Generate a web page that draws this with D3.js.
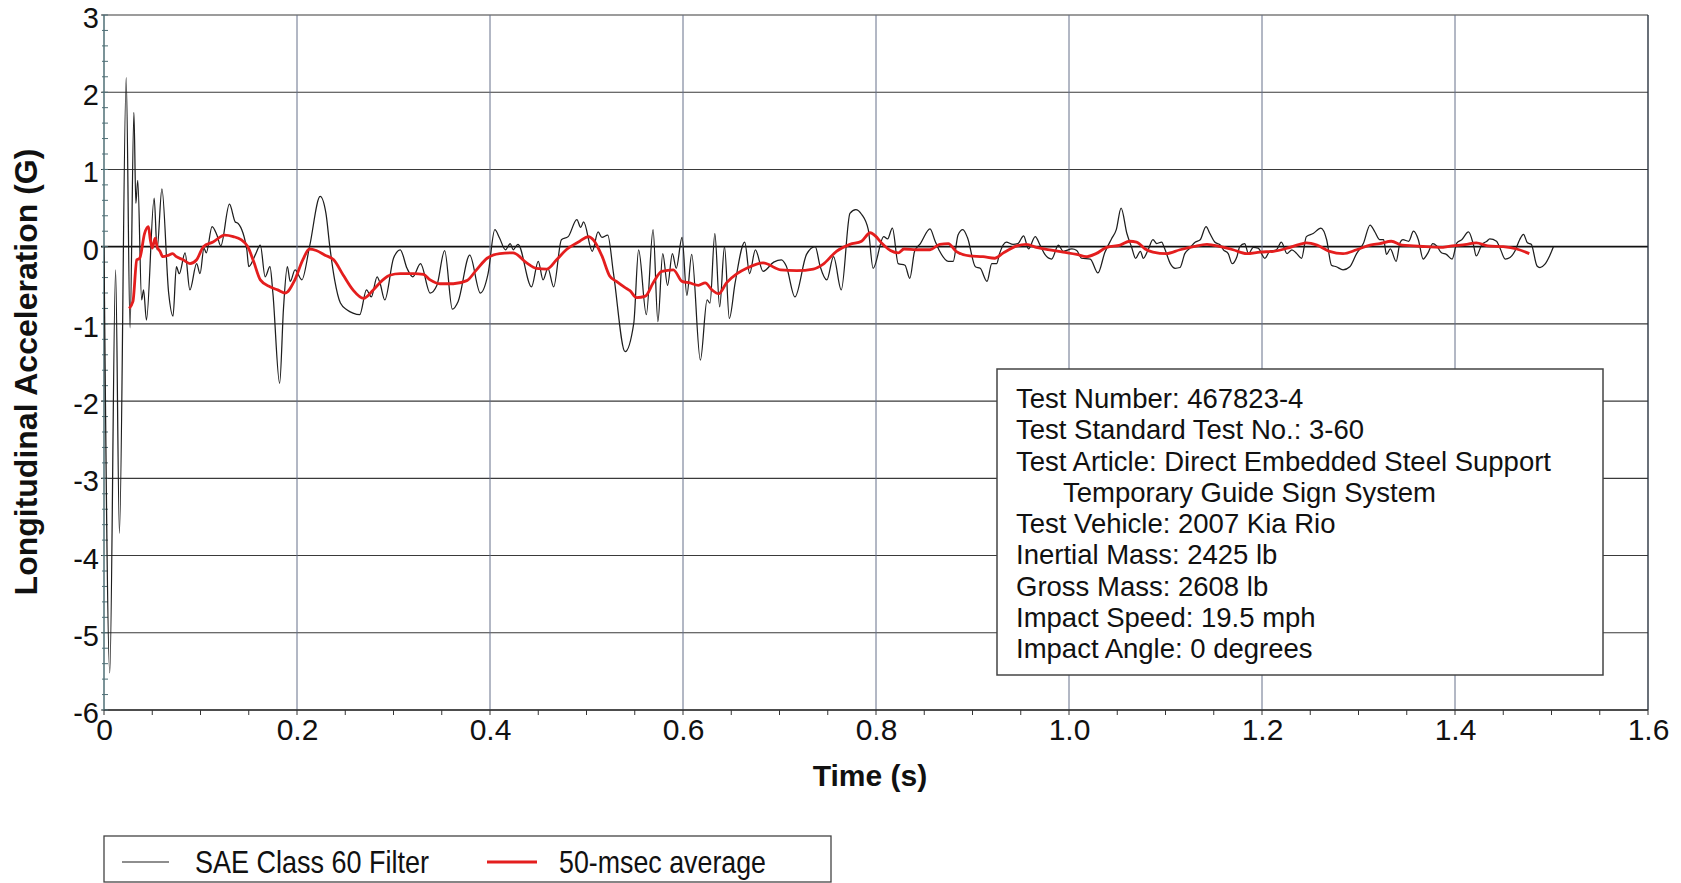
<!DOCTYPE html>
<html><head><meta charset="utf-8">
<script src="https://cdn.jsdelivr.net/npm/d3@7"></script>
<style>
body{margin:0;background:#fff}
svg{display:block}
text{font-family:"Liberation Sans",Arial,Helvetica,sans-serif;fill:#111}
</style>
</head><body><svg id="chart" width="1681" height="883"></svg>
<script>
// ---------- data ----------
const xTickValues = [0,0.2,0.4,0.6,0.8,1.0,1.2,1.4,1.6];
const xTickLabels = ["0","0.2","0.4","0.6","0.8","1.0","1.2","1.4","1.6"];
const yTickValues = [-6,-5,-4,-3,-2,-1,0,1,2,3];
const yTickLabels = ["-6","-5","-4","-3","-2","-1","0","1","2","3"];

const sae60Time = [0,0.006,0.012,0.016,0.023,0.027,0.031,0.033,0.035,0.039,0.041,0.044,0.052,0.055,0.060,0.067,0.0715,0.075,0.078,0.084,0.089,0.096,0.0995,0.1036,0.106,0.112,0.117,0.121,0.130,0.136,0.139,0.148,0.150,0.157,0.162,0.167,0.172,0.175,0.182,0.186,0.190,0.193,0.198,0.205,0.213,0.224,0.230,0.234,0.239,0.245,0.252,0.258,0.265,0.272,0.277,0.283,0.286,0.291,0.300,0.307,0.314,0.320,0.328,0.338,0.345,0.353,0.361,0.367,0.379,0.390,0.398,0.405,0.410,0.416,0.421,0.424,0.429,0.443,0.450,0.455,0.460,0.466,0.474,0.481,0.490,0.494,0.497,0.506,0.512,0.516,0.522,0.528,0.540,0.549,0.554,0.562,0.569,0.574,0.579,0.584,0.589,0.593,0.599,0.604,0.609,0.618,0.625,0.628,0.633,0.638,0.643,0.648,0.654,0.664,0.669,0.675,0.683,0.694,0.702,0.707,0.716,0.728,0.737,0.742,0.749,0.756,0.764,0.773,0.779,0.785,0.792,0.797,0.808,0.812,0.817,0.823,0.830,0.835,0.840,0.846,0.856,0.861,0.866,0.875,0.880,0.885,0.890,0.895,0.903,0.908,0.915,0.920,0.925,0.928,0.935,0.942,0.947,0.953,0.958,0.965,0.970,0.975,0.982,0.989,0.994,1.003,1.008,1.013,1.022,1.030,1.037,1.044,1.049,1.054,1.060,1.065,1.069,1.074,1.077,1.082,1.087,1.091,1.096,1.099,1.105,1.110,1.115,1.120,1.125,1.131,1.136,1.142,1.146,1.151,1.157,1.160,1.165,1.169,1.174,1.177,1.182,1.186,1.191,1.196,1.203,1.208,1.215,1.220,1.226,1.231,1.236,1.241,1.246,1.253,1.261,1.267,1.272,1.277,1.284,1.291,1.298,1.305,1.312,1.317,1.322,1.326,1.329,1.333,1.339,1.343,1.346,1.352,1.357,1.362,1.367,1.372,1.377,1.381,1.386,1.391,1.397,1.402,1.407,1.414,1.419,1.422,1.428,1.433,1.436,1.443,1.447,1.452,1.457,1.462,1.467,1.471,1.475,1.479,1.485,1.488,1.493,1.498,1.502];
const sae60Accel = [0,-5.52,-0.30,-3.71,2.19,-1.05,1.74,0.56,0.86,-0.69,-0.56,-0.95,0.63,-0.04,0.75,-0.60,-0.90,-0.26,-0.35,-0.08,-0.56,-0.22,-0.35,-0.02,-0.08,0.26,0.15,0.01,0.55,0.32,0.30,-0.04,-0.26,-0.10,0.02,-0.39,-0.26,-0.60,-1.77,-0.80,-0.26,-0.45,-0.30,-0.43,0.0,0.65,0.43,0.0,-0.43,-0.73,-0.82,-0.86,-0.88,-0.56,-0.65,-0.39,-0.47,-0.69,-0.15,-0.04,-0.28,-0.39,-0.22,-0.60,-0.50,-0.05,-0.81,-0.71,-0.11,-0.60,-0.35,0.22,0.11,-0.04,0.04,-0.04,0.03,-0.52,-0.19,-0.43,-0.28,-0.52,0.09,0.13,0.35,0.25,0.32,-0.06,0.19,0.12,0.15,-0.35,-1.36,-0.99,-0.04,-0.88,0.22,-0.97,-0.09,-0.50,-0.09,-0.28,0.12,-0.63,-0.10,-1.47,-0.69,-0.73,0.17,-0.78,0.0,-0.93,-0.47,0.06,-0.35,-0.04,-0.32,-0.20,-0.17,-0.25,-0.65,-0.10,0.0,-0.25,-0.43,-0.13,-0.56,0.43,0.48,0.42,0.22,-0.28,0.13,0.10,0.24,-0.22,-0.24,-0.41,-0.06,0.04,0.23,0.08,-0.06,-0.19,-0.19,0.15,0.22,0.11,-0.26,-0.28,-0.45,-0.22,-0.22,-0.09,0.06,0.03,0.04,0.14,-0.03,0.13,0.02,-0.10,-0.16,0.02,-0.06,-0.03,-0.05,-0.15,-0.16,-0.34,-0.08,0.10,0.22,0.50,0.17,-0.01,-0.15,-0.06,-0.15,-0.04,0.09,0.04,0.06,-0.02,-0.22,-0.28,-0.27,-0.09,-0.02,0.06,0.09,0.26,0.17,0.06,0.02,-0.04,-0.09,-0.22,-0.13,0.0,0.04,-0.09,-0.01,-0.02,-0.15,-0.06,-0.04,0.06,-0.09,-0.04,-0.09,-0.15,0.13,0.17,0.24,0.09,-0.24,-0.26,-0.30,-0.26,-0.09,0.04,0.28,0.19,0.09,0.09,-0.10,-0.03,-0.19,0.05,0.09,0.07,0.20,0.09,-0.16,-0.08,0.04,0.01,-0.08,-0.10,-0.16,0.05,0.09,0.19,0.03,-0.12,0.03,0.07,0.10,0.07,-0.03,-0.16,-0.14,-0.06,0.09,0.16,0.05,0.03,-0.25,-0.27,-0.23,-0.12,0.0];

const avgTime = [0.026,0.030,0.034,0.037,0.042,0.046,0.048,0.050,0.053,0.055,0.058,0.061,0.067,0.071,0.075,0.082,0.089,0.096,0.103,0.113,0.125,0.134,0.142,0.149,0.155,0.162,0.172,0.180,0.188,0.197,0.206,0.213,0.220,0.229,0.238,0.248,0.258,0.269,0.279,0.289,0.296,0.307,0.321,0.331,0.338,0.348,0.362,0.376,0.386,0.397,0.410,0.424,0.438,0.448,0.459,0.469,0.479,0.493,0.502,0.507,0.516,0.524,0.531,0.540,0.545,0.552,0.561,0.569,0.578,0.590,0.599,0.607,0.616,0.623,0.630,0.637,0.645,0.656,0.666,0.683,0.701,0.718,0.735,0.745,0.759,0.773,0.785,0.794,0.808,0.815,0.823,0.829,0.842,0.856,0.866,0.875,0.883,0.897,0.911,0.923,0.932,0.946,0.956,0.966,0.980,0.994,1.008,1.018,1.028,1.039,1.053,1.063,1.070,1.079,1.087,1.101,1.115,1.129,1.143,1.157,1.170,1.184,1.198,1.212,1.226,1.239,1.246,1.257,1.270,1.284,1.298,1.312,1.322,1.334,1.345,1.357,1.370,1.384,1.397,1.412,1.422,1.434,1.450,1.464,1.477];
const avgAccel = [-0.80,-0.71,-0.17,-0.15,0.17,0.26,0.09,-0.02,0.11,0.0,-0.06,-0.13,-0.11,-0.09,-0.13,-0.17,-0.22,-0.17,0.0,0.06,0.15,0.13,0.09,0.0,-0.19,-0.43,-0.52,-0.56,-0.60,-0.45,-0.17,-0.03,-0.05,-0.11,-0.17,-0.37,-0.56,-0.67,-0.56,-0.43,-0.37,-0.35,-0.35,-0.36,-0.43,-0.48,-0.48,-0.44,-0.30,-0.15,-0.09,-0.08,-0.21,-0.28,-0.29,-0.17,-0.04,0.07,0.13,0.09,-0.12,-0.38,-0.45,-0.53,-0.57,-0.66,-0.64,-0.47,-0.32,-0.30,-0.45,-0.47,-0.50,-0.47,-0.56,-0.61,-0.47,-0.35,-0.28,-0.21,-0.30,-0.31,-0.29,-0.23,-0.06,0.03,0.07,0.18,0.02,-0.05,-0.08,-0.03,-0.04,-0.04,0.03,0.04,-0.06,-0.12,-0.13,-0.15,-0.08,0.01,0.03,-0.01,-0.04,-0.07,-0.10,-0.13,-0.09,-0.01,0.02,0.07,0.06,-0.03,-0.07,-0.09,-0.04,0.0,0.03,0.0,-0.04,-0.09,-0.07,-0.06,-0.02,0.03,0.05,0.02,-0.06,-0.09,-0.04,0.02,0.04,0.07,0.02,0.01,0.0,-0.01,0.01,0.03,0.05,0.01,0.0,-0.03,-0.09];

const seriesNames = ["SAE Class 60 Filter","50-msec average"];
const seriesColors = ["#1e1e1e","#e41e1e"];
const xTitle = "Time (s)";
const yTitle = "Longitudinal Acceleration (G)";
const infoLines = [
  "Test Number: 467823-4",
  "Test Standard Test No.: 3-60",
  "Test Article: Direct Embedded Steel Support",
  "Temporary Guide Sign System",
  "Test Vehicle: 2007 Kia Rio",
  "Inertial Mass: 2425 lb",
  "Gross Mass: 2608 lb",
  "Impact Speed: 19.5 mph",
  "Impact Angle: 0 degrees"
];
const infoIndent = [false,false,false,true,false,false,false,false,false];

// ---------- layout ----------
const svg = d3.select("#chart");
const L = 104, R = 1648, T = 15, B = 710;
const x = d3.scaleLinear().domain([0,1.6]).range([L,R]);
const y = d3.scaleLinear().domain([-6,3]).range([B,T]);

// horizontal gridlines
svg.append("g").selectAll("line").data(yTickValues).join("line")
  .attr("x1", L-3).attr("x2", R)
  .attr("y1", d=>y(d)).attr("y2", d=>y(d))
  .attr("stroke", d=> d===0 ? "#111" : "#3a3a3a")
  .attr("stroke-width", d=> d===0 ? 1.6 : 1.1);

// vertical gridlines
svg.append("g").selectAll("line").data(xTickValues.filter(d=>d>0)).join("line")
  .attr("x1", d=>x(d)).attr("x2", d=>x(d))
  .attr("y1", T).attr("y2", B)
  .attr("stroke", d=> d===1.6 ? "#2a3440" : "#66708a")
  .attr("stroke-width", d=> d===1.6 ? 1.4 : 1);

// left axis line
svg.append("line").attr("x1",L).attr("x2",L).attr("y1",T).attr("y2",B)
  .attr("stroke","#4f6f76").attr("stroke-width",1.5);
// bottom axis line
svg.append("line").attr("x1",L).attr("x2",R).attr("y1",B).attr("y2",B)
  .attr("stroke","#333").attr("stroke-width",1.3);

// y minor ticks every 0.2
const yMinor = d3.range(-6, 3.0001, 0.2);
svg.append("g").selectAll("line").data(yMinor).join("line")
  .attr("x1", L-2).attr("x2", L+4)
  .attr("y1", d=>y(d)).attr("y2", d=>y(d))
  .attr("stroke","#4f6f76").attr("stroke-width",1);

// x minor ticks every 0.05
const xMinor = d3.range(0, 1.6001, 0.05);
svg.append("g").selectAll("line").data(xMinor).join("line")
  .attr("x1", d=>x(d)).attr("x2", d=>x(d))
  .attr("y1", B).attr("y2", B+5)
  .attr("stroke","#333").attr("stroke-width",1);

// axes labels via d3 axes
const yAxis = d3.axisLeft(y).tickValues(yTickValues)
  .tickFormat((d,i)=>yTickLabels[i]).tickSize(0).tickPadding(5);
const gy = svg.append("g").attr("transform",`translate(${L},0)`).call(yAxis);
gy.attr("font-size", null);
gy.select(".domain").remove();
gy.selectAll("text").style("font-size","29px").attr("fill","#111")
  .attr("dy","0.43em")
  .attr("font-family","Liberation Sans, Arial, sans-serif");

const xAxis = d3.axisBottom(x).tickValues(xTickValues)
  .tickFormat((d,i)=>xTickLabels[i]).tickSize(0).tickPadding(9);
const gx = svg.append("g").attr("transform",`translate(0,${B})`).call(xAxis);
gx.attr("font-size", null);
gx.select(".domain").remove();
gx.selectAll("text").style("font-size","30px").attr("fill","#111")
  .attr("font-family","Liberation Sans, Arial, sans-serif");

// axis titles
svg.append("text").attr("x", 870).attr("y", 786)
  .attr("text-anchor","middle").style("font-size","30px").style("font-weight","bold")
  .text(xTitle);
svg.append("text").attr("transform","translate(37,372) rotate(-90)")
  .attr("text-anchor","middle").style("font-size","32px").style("font-weight","bold")
  .text(yTitle);

// series
svg.append("clipPath").attr("id","plotclip").append("rect")
  .attr("x",L).attr("y",T).attr("width",R-L).attr("height",B-T);

const sae = sae60Time.map((t,i)=>[t, sae60Accel[i]]);
const avg = avgTime.map((t,i)=>[t, avgAccel[i]]);
const line = d3.line().x(d=>x(d[0])).y(d=>y(d[1])).curve(d3.curveMonotoneX);

svg.append("path").datum(sae).attr("d", line)
  .attr("fill","none").attr("stroke",seriesColors[0]).attr("stroke-width",1.25)
  .attr("stroke-linejoin","round").attr("clip-path","url(#plotclip)");
svg.append("path").datum(avg).attr("d", line)
  .attr("fill","none").attr("stroke",seriesColors[1]).attr("stroke-width",2.8)
  .attr("stroke-linejoin","round").attr("clip-path","url(#plotclip)");

// info box
const ib = svg.append("g");
ib.append("rect").attr("x",997).attr("y",369).attr("width",606).attr("height",306)
  .attr("fill","#fff").attr("stroke","#444").attr("stroke-width",1.5);
ib.selectAll("text").data(infoLines).join("text")
  .attr("x",(d,i)=> infoIndent[i] ? 1063 : 1016)
  .attr("y",(d,i)=> 408 + i*31.25)
  .style("font-size","27.5px")
  .text(d=>d);

// legend
const lg = svg.append("g");
lg.append("rect").attr("x",104).attr("y",836).attr("width",727).attr("height",46)
  .attr("fill","#fff").attr("stroke","#444").attr("stroke-width",1.3);
lg.append("line").attr("x1",122).attr("x2",169).attr("y1",862).attr("y2",862)
  .attr("stroke",seriesColors[0]).attr("stroke-width",1.2);
lg.append("text").attr("x",195).attr("y",873).style("font-size","32px")
  .attr("textLength",234).attr("lengthAdjust","spacingAndGlyphs").text(seriesNames[0]);
lg.append("line").attr("x1",487).attr("x2",537).attr("y1",862).attr("y2",862)
  .attr("stroke",seriesColors[1]).attr("stroke-width",2.8);
lg.append("text").attr("x",559).attr("y",873).style("font-size","32px")
  .attr("textLength",207).attr("lengthAdjust","spacingAndGlyphs").text(seriesNames[1]);
</script>
</body></html>
